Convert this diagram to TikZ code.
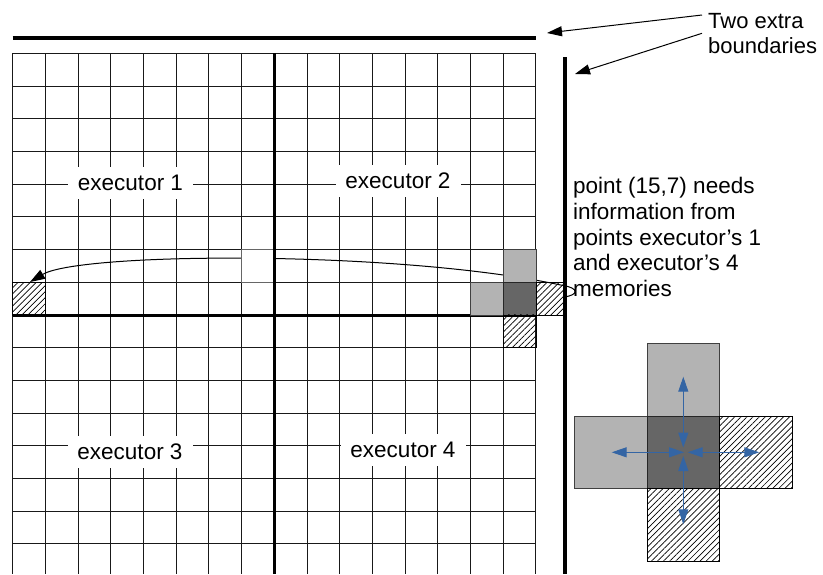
\documentclass[tikz,border=0pt]{standalone}
\usepackage{fontspec}
\setmainfont{Liberation Sans}
\usetikzlibrary{arrows.meta,patterns.meta}
\definecolor{lightcell}{HTML}{B3B3B3}
\definecolor{darkcell}{HTML}{666666}
\definecolor{arrblue}{HTML}{3465A4}
\newcommand\gridcell[3]{\path[#1] ({12.7+#2*32.7},{53.3+#3*32.7}) rectangle ++(32.7,32.7);}
\begin{document}
\begin{tikzpicture}[x=1pt,y=-1pt,
  cellline/.style={draw=black!90,line width=1pt},
  thickline/.style={draw=black,line width=3.2pt},
  lightbox/.style={fill=lightcell,draw=black!75,line width=0.8pt},
  darkbox/.style={fill=darkcell,draw=black!85,line width=0.8pt},
  hatchbox/.style={pattern={Lines[angle=45,distance=4.3pt,line width=0.7pt]},pattern color=black,draw=black,line width=0.8pt},
  whitebox/.style={fill=white,draw=black!60,line width=0.8pt},
  lbl/.style={fill=white,inner sep=0pt,minimum width=125pt,minimum height=32pt,font=\fontsize{22.5}{27}\selectfont},
  txt/.style={inner sep=0pt,align=left,font=\fontsize{22.5}{25.85}\selectfont},
  callout/.style={draw=black,line width=1pt,-{Triangle[length=15pt,width=10pt]}},
  bluearr/.style={draw=arrblue,line width=1pt,{Triangle[length=15pt,width=10pt]}-{Triangle[length=15pt,width=10pt]}}
]
\useasboundingbox (0,0) rectangle (823,574);
% grid
\foreach \i in {0,...,16}
  \draw[cellline] ({12.7+\i*32.7},53.3) -- ({12.7+\i*32.7},574);
\foreach \j in {0,...,15}
  \draw[cellline] (12.7,{53.3+\j*32.7}) -- (535.9,{53.3+\j*32.7});
% curved arrow
\coordinate (hookA) at (564,297);
\coordinate (cstart) at (563,285.5);
\coordinate (ctip) at (30,282);
\draw[callout] (hookA) .. controls (579,295) and (579,288) .. (cstart)
  .. controls (400,250) and (80,252) .. (ctip);
% white cell over the curve
\gridcell{whitebox}{7}{6}
% thick executor boundaries
\draw[thickline] (274.3,53.3) -- (274.3,574);
\draw[thickline] (12.7,315.5) -- (535.9,315.5);
% stencil cells in grid
\gridcell{lightbox}{14}{7}
\gridcell{lightbox}{15}{6}
\gridcell{darkbox}{15}{7}
\gridcell{hatchbox}{15}{8}
\gridcell{hatchbox}{0}{7}
\path[hatchbox] (535.9,282.2) rectangle (565,314.9);
% extra boundaries
\draw[thickline] (12.7,38) -- (535.9,38);
\draw[thickline] (565,57) -- (565,574);
% labels
\node[lbl] (e1) at (130.5,182.5) {executor 1};
\node[lbl] (e2) at (398,181) {executor 2};
\node[lbl] (e3) at (130,452) {executor 3};
\node[lbl] (e4) at (403,450) {executor 4};
\node[txt,anchor=base west] (info) at (573,296.7) {point (15,7) needs\\information from\\points executor’s 1\\and executor’s 4\\memories};
\node[txt,anchor=base west,font=\fontsize{22}{25}\selectfont] (note) at (708,53.3) {Two extra\\boundaries};
% callout arrows
\coordinate (n1) at (702,15);
\coordinate (t1) at (547,33);
\coordinate (n2) at (702,33.3);
\coordinate (t2) at (575,74);
\draw[callout] (n1) -- (t1);
\draw[callout] (n2) -- (t2);
% stencil legend
\path[lightbox] (647.3,343.3) rectangle (719.3,416);
\path[lightbox] (574.3,416) rectangle (647.3,488.3);
\path[darkbox] (647.3,416) rectangle (719.3,488.3);
\path[hatchbox] (719.3,416) rectangle (792.5,488.3);
\path[hatchbox] (647.3,488.3) rectangle (719.3,561);
\coordinate (uA) at (683.3,447.5);
\coordinate (uB) at (683.3,376.7);
\coordinate (lA) at (684,452.3);
\coordinate (lB) at (611.7,452.3);
\coordinate (rA) at (687.7,452.3);
\coordinate (rB) at (759.3,452.3);
\coordinate (dA) at (683.3,456);
\coordinate (dB) at (683.3,524.3);
\draw[bluearr] (uA) -- (uB);
\draw[bluearr] (lA) -- (lB);
\draw[bluearr] (rA) -- (rB);
\draw[bluearr] (dA) -- (dB);
\end{tikzpicture}
\end{document}
